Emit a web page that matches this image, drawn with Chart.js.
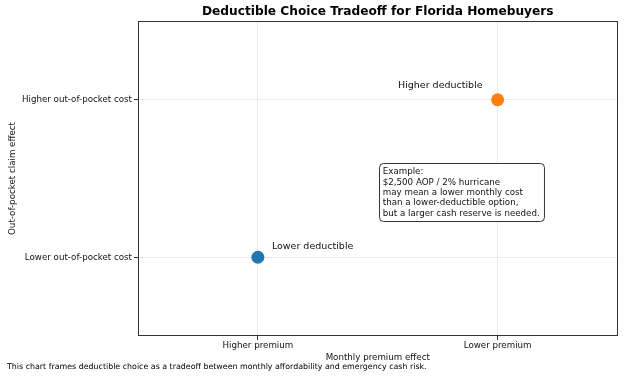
<!DOCTYPE html>
<html>
<head>
<meta charset="utf-8">
<script src="https://cdn.jsdelivr.net/npm/chart.js@4.4.0/dist/chart.umd.min.js"></script>
<style>
    html, body { margin: 0; padding: 0; background: #fff; }
    #wrap { width: 624px; height: 377px; }
</style>
</head>
<body>
<div id="wrap"><canvas id="tradeoffChart" width="624" height="377"></canvas></div>
<script>
// Axis categories (index = position on the axis)
const premiumLabels = ['Higher premium', 'Lower premium'];
const costLabels = ['Lower out-of-pocket cost', 'Higher out-of-pocket cost'];

// The two deductible options
const optionNames = ['Lower deductible', 'Higher deductible'];
const optionPremium = [0, 1];
const optionCost = [0, 1];
const optionColors = ['#1f77b4', '#ff7f0e'];

// Text bits
const chartTitle = 'Deductible Choice Tradeoff for Florida Homebuyers';
const xTitle = 'Monthly premium effect';
const yTitle = 'Out-of-pocket claim effect';
const footNote = 'This chart frames deductible choice as a tradeoff between monthly affordability and emergency cash risk.';
const noteLines = [
    'Example:',
    '$2,500 AOP / 2% hurricane',
    'may mean a lower monthly cost',
    'than a lower-deductible option,',
    'but a larger cash reserve is needed.'
];
// top-left corner of the note box, in data units
const noteAnchor = [0.5, 0.6];

const FONT = "'DejaVu Sans', sans-serif";
const TEXT = '#111';

// Draws title, axis titles, point labels, note box and the full frame
const decorPlugin = {
    id: 'decor',
    afterDraw(chart) {
        const ctx = chart.ctx;
        const area = chart.chartArea;
        const xs = chart.scales.x;
        const ys = chart.scales.y;
        ctx.save();

        // frame
        ctx.strokeStyle = '#333';
        ctx.lineWidth = 1;
        ctx.strokeRect(Math.round(area.left) + 0.5, Math.round(area.top) + 0.5,
            Math.round(area.right - area.left) - 1, Math.round(area.bottom - area.top) - 1);

        // title
        ctx.fillStyle = '#000';
        ctx.textAlign = 'center';
        ctx.textBaseline = 'middle';
        ctx.font = 'bold 12.2px ' + FONT;
        ctx.fillText(chartTitle, (area.left + area.right) / 2, 12);

        // axis titles
        ctx.fillStyle = TEXT;
        ctx.font = '8.7px ' + FONT;
        ctx.fillText(xTitle, (area.left + area.right) / 2, 358);
        ctx.save();
        ctx.translate(13, (area.top + area.bottom) / 2);
        ctx.rotate(-Math.PI / 2);
        ctx.fillText(yTitle, 0, 0);
        ctx.restore();

        // footnote
        ctx.textAlign = 'left';
        ctx.font = '7.9px ' + FONT;
        ctx.fillStyle = '#000';
        ctx.fillText(footNote, 7, 367);

        // point labels
        ctx.font = '9.5px ' + FONT;
        ctx.fillStyle = TEXT;
        optionNames.forEach((name, i) => {
            const px = xs.getPixelForValue(optionPremium[i]);
            const py = ys.getPixelForValue(optionCost[i]);
            if (i === 0) {
                ctx.textAlign = 'left';
                ctx.fillText(name, px + 14, py - 11);
            } else {
                ctx.textAlign = 'right';
                ctx.fillText(name, px - 15, py - 14);
            }
        });

        // note box
        ctx.font = '8.7px ' + FONT;
        const lineH = 10.4;
        const pad = 4;
        const bx = xs.getPixelForValue(noteAnchor[0]) + 1;
        const by = ys.getPixelForValue(noteAnchor[1]);
        const bw = Math.max(...noteLines.map(l => ctx.measureText(l).width)) + pad * 2;
        const bh = noteLines.length * lineH + pad * 1.5;
        ctx.beginPath();
        ctx.roundRect(Math.round(bx) + 0.5, Math.round(by) + 0.5, bw, bh, 4);
        ctx.fillStyle = '#fff';
        ctx.fill();
        ctx.strokeStyle = '#333';
        ctx.lineWidth = 1;
        ctx.stroke();
        ctx.fillStyle = TEXT;
        ctx.textAlign = 'left';
        noteLines.forEach((line, i) => {
            ctx.fillText(line, bx + pad, by + pad + lineH * i + lineH / 2);
        });

        ctx.restore();
    }
};

function axisConfig(labels, isX) {
    return {
        type: 'linear',
        min: -0.5,
        max: 1.5,
        afterBuildTicks: scale => { scale.ticks = labels.map((_, i) => ({ value: i })); },
        afterFit: scale => {
            if (isX) scale.height = 41;
            else scale.width = 138;
        },
        ticks: {
            callback: v => labels[v] || '',
            font: { family: FONT, size: 8.7 },
            color: TEXT,
            padding: isX ? 1 : 2,
            autoSkip: false,
            maxRotation: 0
        },
        grid: { color: '#ebebeb', tickColor: '#333', tickLength: 4, lineWidth: 1 },
        border: { display: false }
    };
}

const ctx = document.getElementById('tradeoffChart').getContext('2d');
const tradeoffChart = new Chart(ctx, {
    type: 'scatter',
    data: {
        datasets: [{
            data: optionNames.map((_, i) => ({ x: optionPremium[i], y: optionCost[i] })),
            pointBackgroundColor: optionColors,
            pointBorderWidth: 0,
            pointRadius: 6.5,
            pointHoverRadius: 6.5
        }]
    },
    options: {
        responsive: false,
        devicePixelRatio: 1,
        animation: false,
        layout: { padding: { top: 21, right: 6, left: 0, bottom: 0 } },
        plugins: {
            legend: { display: false },
            tooltip: { enabled: false },
            title: { display: false }
        },
        scales: {
            x: axisConfig(premiumLabels, true),
            y: axisConfig(costLabels, false)
        }
    },
    plugins: [decorPlugin]
});
</script>
</body>
</html>
